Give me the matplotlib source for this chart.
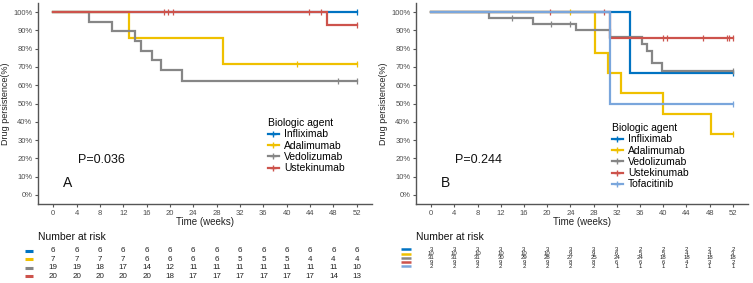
import numpy as np
import matplotlib
matplotlib.use('Agg')
import matplotlib.pyplot as plt
from matplotlib.lines import Line2D

plt.rcParams['font.family'] = ['Liberation Sans', 'DejaVu Sans']

# JCO palette
COLORS = {'Infliximab': '#0073C2', 'Adalimumab': '#EFC000', 'Vedolizumab': '#868686',
          'Ustekinumab': '#CD534C', 'Tofacitinib': '#7AA6DC'}

risk_times = np.arange(0, 53, 4)

# ---------------- Panel A ----------------
a_agents = ['Infliximab', 'Adalimumab', 'Vedolizumab', 'Ustekinumab']
a_steps = {
    'Infliximab':  ([0], [1.0]),
    'Adalimumab':  ([0, 12.9, 29.0], [1.0, 0.857, 0.714]),
    'Vedolizumab': ([0, 6.1, 10.0, 14.0, 15.0, 17.0, 18.4, 22.0],
                    [1.0, 0.947, 0.895, 0.842, 0.789, 0.737, 0.684, 0.622]),
    'Ustekinumab': ([0, 46.9], [1.0, 0.929]),
}
a_censor = {
    'Infliximab':  [52],
    'Adalimumab':  [41.8, 52],
    'Vedolizumab': [48.8, 52],
    'Ustekinumab': [19.0, 19.7, 20.5, 43.8, 45.8, 52],
}
a_risk = {
    'Infliximab':  [6, 6, 6, 6, 6, 6, 6, 6, 6, 6, 6, 6, 6, 6],
    'Adalimumab':  [7, 7, 7, 7, 6, 6, 6, 6, 5, 5, 5, 4, 4, 4],
    'Vedolizumab': [19, 19, 18, 17, 14, 12, 11, 11, 11, 11, 11, 11, 11, 10],
    'Ustekinumab': [20, 20, 20, 20, 20, 18, 17, 17, 17, 17, 17, 17, 14, 13],
}

# ---------------- Panel B ----------------
b_agents = ['Infliximab', 'Adalimumab', 'Vedolizumab', 'Ustekinumab', 'Tofacitinib']
b_steps = {
    'Infliximab':  ([0, 34.2], [1.0, 0.667]),
    'Adalimumab':  ([0, 28.3, 30.5, 32.7, 39.9, 48.2],
                    [1.0, 0.778, 0.667, 0.556, 0.444, 0.333]),
    'Vedolizumab': ([0, 9.9, 17.6, 25.0, 30.8, 36.3, 37.2, 38.0, 39.8],
                    [1.0, 0.968, 0.935, 0.90, 0.862, 0.828, 0.79, 0.722, 0.68]),
    'Ustekinumab': ([0, 30.8], [1.0, 0.857]),
    'Tofacitinib': ([0, 30.9], [1.0, 0.5]),
}
b_censor = {
    'Infliximab':  [52],
    'Adalimumab':  [23.9, 52],
    'Vedolizumab': [13.9, 20.7, 23.9, 52],
    'Ustekinumab': [20.5, 29.8, 40.0, 40.6, 46.9, 50.9, 51.4, 52],
    'Tofacitinib': [52],
}
b_risk = {
    'Infliximab':  [3, 3, 3, 3, 3, 3, 3, 3, 3, 2, 2, 2, 2, 2],
    'Adalimumab':  [10, 10, 10, 10, 10, 10, 9, 9, 6, 5, 5, 4, 4, 3],
    'Vedolizumab': [31, 31, 31, 30, 29, 28, 27, 25, 24, 24, 18, 18, 18, 18],
    'Ustekinumab': [9, 9, 9, 9, 9, 9, 8, 8, 6, 6, 6, 4, 3, 2],
    'Tofacitinib': [2, 2, 2, 2, 2, 2, 2, 2, 1, 1, 1, 1, 1, 1],
}

W, H = 753, 283
fig = plt.figure(figsize=(W / 100, H / 100), dpi=100)

AX_COL = '#555555'
TXT_COL = '#4D4D4D'


def px_axes(x0, y0, x1, y1):
    return fig.add_axes([x0 / W, 1 - y1 / H, (x1 - x0) / W, (y1 - y0) / H])


def km_panel(ax, agents, steps, censor, pval, letter):
    for ag in agents:
        t, s = steps[ag]
        t = list(t) + [52]
        s = list(s) + [s[-1]]
        ax.step(t, s, where='post', color=COLORS[ag], lw=1.6, solid_joinstyle='miter')
        ct = np.array(censor[ag])
        idx = np.searchsorted(steps[ag][0], ct, side='right') - 1
        cs = np.array(steps[ag][1])[idx]
        ax.plot(ct, cs, ls='none', marker='|', ms=4, mew=0.9, color=COLORS[ag])
    ax.set_xlim(-2.6, 54.6)
    ax.set_ylim(-0.05, 1.05)
    ax.set_xticks(risk_times)
    ax.set_yticks(np.arange(0, 1.01, 0.1))
    ax.set_yticklabels([f'{int(round(v * 100))}%' for v in np.arange(0, 1.01, 0.1)])
    ax.tick_params(labelsize=5.5, colors=AX_COL, labelcolor=TXT_COL, length=2.5, width=0.8, pad=1.5)
    for sp in ['top', 'right']:
        ax.spines[sp].set_visible(False)
    for sp in ['left', 'bottom']:
        ax.spines[sp].set_color(AX_COL)
        ax.spines[sp].set_linewidth(1.0)
    ax.set_xlabel('Time (weeks)', fontsize=7, labelpad=0, color='#222222')
    ax.set_ylabel('Drug persistence(%)', fontsize=6.5, labelpad=2, color='#222222')
    ax.text(4.2, 0.19, pval, fontsize=9, va='center', ha='left', color='#111111')
    ax.text(1.6, 0.065, letter, fontsize=10, va='center', ha='left', color='#111111')


def risk_table(ax, agents, risk, rows_y, bar_x, fs, bar_lw):
    ax.set_xlim(-2.6, 54.6)
    ax.set_ylim(H, 225)
    ax.axis('off')
    ax.text(-2.6, 237, 'Number at risk', fontsize=7.5, va='center', ha='left', color='#111111')
    for ag, y in zip(agents, rows_y):
        ax.plot(bar_x, [y, y], color=COLORS[ag], lw=bar_lw, clip_on=False, solid_capstyle='butt')
        for t, n in zip(risk_times, risk[ag]):
            ax.text(t, y, str(n), fontsize=fs, ha='center', va='center', color='#222222')


def legend(ax, agents, x, y):
    handles = [Line2D([0], [0], color=COLORS[a], lw=1.6, marker='+', ms=4, mew=1.0) for a in agents]
    ax.legend(handles, agents, title='Biologic agent', loc='upper left',
              bbox_to_anchor=(x / W, 1 - y / H), bbox_transform=fig.transFigure,
              frameon=False, fontsize=7.5, title_fontsize=7.5, handlelength=1.0,
              handletextpad=0.5, labelspacing=0.12, borderpad=0, alignment='left')


# Panel A
axA = px_axes(38, 3, 372, 204)
km_panel(axA, a_agents, a_steps, a_censor, 'P=0.036', 'A')
legend(axA, a_agents, 263, 113)
tA = px_axes(38, 225, 372, 283)
risk_table(tA, a_agents, a_risk, [251, 259.5, 268, 276.5], [-4.9, -3.4], 5.8, 2.2)

# Panel B
axB = px_axes(416, 3, 748, 204)
km_panel(axB, b_agents, b_steps, b_censor, 'P=0.244', 'B')
legend(axB, b_agents, 607, 118)
tB = px_axes(416, 225, 748, 283)
risk_table(tB, b_agents, b_risk, [249.3, 253.6, 257.9, 262.2, 266.5], [-5.1, -3.4], 4.3, 1.8)

fig.savefig('out.png', dpi=100)
